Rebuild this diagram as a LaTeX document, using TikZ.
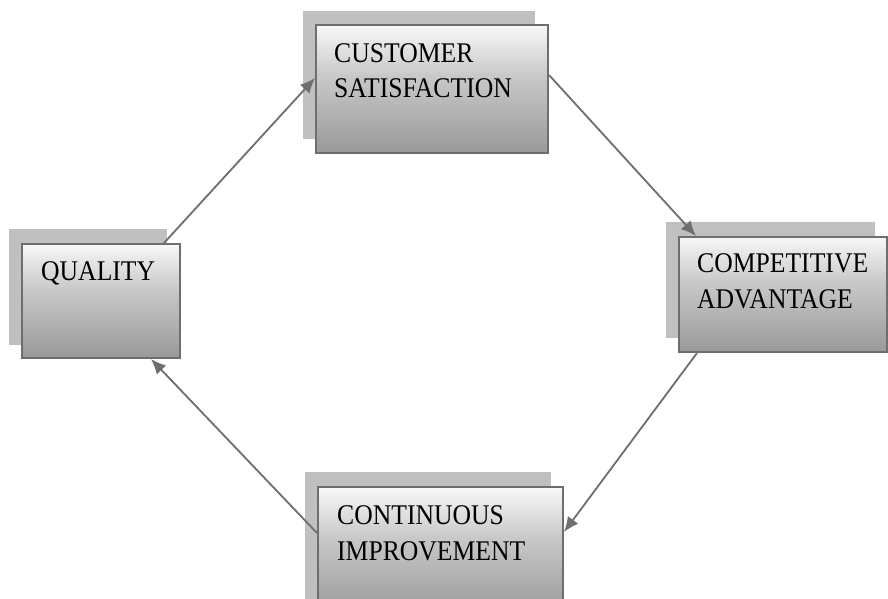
\documentclass[tikz,border=0pt]{standalone}
\usepackage{fontspec}
\newfontfamily\boxfont[FakeStretch=0.9]{Liberation Serif}
\usetikzlibrary{arrows.meta}
\definecolor{edgegray}{HTML}{6E6E6E}
\definecolor{shadowgray}{HTML}{C0C0C0}
\definecolor{darkfill}{HTML}{999999}
\definecolor{midfill}{HTML}{C8C8C8}
\pgfdeclareverticalshading{boxgrad}{100bp}{%
  color(0bp)=(darkfill); color(25bp)=(darkfill); color(55bp)=(midfill);
  color(78bp)=(white); color(100bp)=(white)}
\tikzset{
  stagebox/.style={draw=edgegray, line width=2pt, shade, shading=boxgrad,
    inner sep=0pt, rectangle},
  backshade/.style={fill=shadowgray},
  label text/.style={anchor=base west, inner sep=0pt, align=left,
    font=\boxfont\fontsize{28.5}{35.5}\selectfont},
  flow/.style={draw=edgegray, line width=1.8pt,
    -{Latex[length=15pt,width=13pt]}}
}
\begin{document}
\begin{tikzpicture}[x=1pt,y=-1pt]
\useasboundingbox (0,0) rectangle (888,599);
\clip (0,0) rectangle (888,599);
\fill[white] (0,0) rectangle (888,599);

% back shadows of the four stage boxes
\fill[backshade] (9,229) rectangle (167,345);
\fill[backshade] (303,11) rectangle (535,139);
\fill[backshade] (666,222) rectangle (875,338);
\fill[backshade] (305,472) rectangle (551,600);

% stage boxes
\node[stagebox, minimum width=158pt, minimum height=114pt] (q) at (101,301) {};
\node[stagebox, minimum width=232pt, minimum height=128pt] (c) at (432,89) {};
\node[stagebox, minimum width=208pt, minimum height=115pt] (a) at (783,294.5) {};
\node[stagebox, minimum width=245pt, minimum height=128pt] (i) at (440.5,551) {};

% box labels (anchored at the baseline of the last line)
\node[label text] (qt) at (41,280) {QUALITY};
\node[label text] (ct) at (334,98) {CUSTOMER\\SATISFACTION};
\node[label text] (at) at (697,308) {COMPETITIVE\\ADVANTAGE};
\node[label text] (it) at (337,560) {CONTINUOUS\\IMPROVEMENT};

% cycle connectors
\draw[flow] ([xshift=-17pt]q.north east) -- ([yshift=11pt]c.west);
\draw[flow] ([yshift=14pt]c.east) -- ([xshift=18pt]a.north west);
\draw[flow] ([xshift=19pt]a.south west) -- ([yshift=19pt]i.east);
\draw[flow] ([yshift=18pt]i.west) -- ([xshift=-30pt]q.south east);
\end{tikzpicture}
\end{document}
